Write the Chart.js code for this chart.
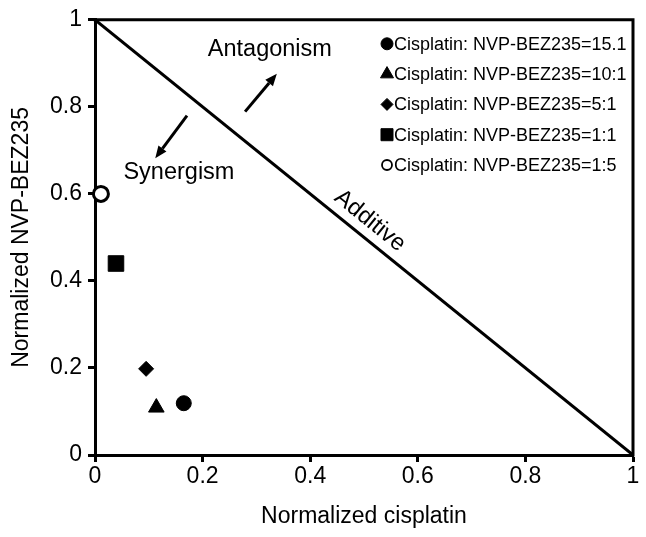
<!DOCTYPE html>
<html>
<head>
<meta charset="utf-8">
<script src="https://cdn.jsdelivr.net/npm/chart.js@4.4.1/dist/chart.umd.min.js"></script>
<style>
  html, body { margin: 0; padding: 0; background: #fff; }
  #wrap { width: 646px; height: 537px; }
</style>
</head>
<body>
<div id="wrap"><canvas id="c" width="646" height="537"></canvas></div>
<script>
// ---- data ----
const seriesLabels = [
  'Cisplatin: NVP-BEZ235=15.1',
  'Cisplatin: NVP-BEZ235=10:1',
  'Cisplatin: NVP-BEZ235=5:1',
  'Cisplatin: NVP-BEZ235=1:1',
  'Cisplatin: NVP-BEZ235=1:5'
];
const normCisplatin = [0.165, 0.114, 0.095, 0.039, 0.011];
const normBEZ235   = [0.119, 0.109, 0.198, 0.440, 0.600];
const markerStyles = ['circle', 'triangle', 'rectRot', 'rect', 'circle'];
const markerFilled = [true, true, true, true, false];
const additiveX = [0, 1];
const additiveY = [1, 0];
const tickValues = [0, 0.2, 0.4, 0.6, 0.8, 1];
const annotationTexts = ['Antagonism', 'Synergism', 'Additive'];

const FONT = '"Liberation Sans", Arial, Helvetica, sans-serif';
const markerRadius = { circle: 7.5, triangle: 9, rectRot: 7.5, rect: 11 };

const datasets = [];
datasets.push({
  type: 'line',
  label: 'Additive',
  data: additiveX.map((x, i) => ({ x: x, y: additiveY[i] })),
  borderColor: '#000',
  borderWidth: 3,
  pointRadius: 0,
  fill: false,
  order: 10
});
seriesLabels.forEach((lab, i) => {
  const r = markerFilled[i] ? markerRadius[markerStyles[i]] : 7.5;
  datasets.push({
    type: 'scatter',
    label: lab,
    data: [{ x: normCisplatin[i], y: normBEZ235[i] }],
    pointStyle: markerStyles[i],
    pointRadius: r,
    pointHoverRadius: r,
    backgroundColor: markerFilled[i] ? '#000' : '#fff',
    borderColor: '#000',
    borderWidth: markerFilled[i] ? 1 : 3,
    clip: false,
    order: 1
  });
});

const boxPlugin = {
  id: 'boxAndNotes',
  afterDatasetsDraw(chart) {
    const ctx = chart.ctx;
    const a = chart.chartArea;
    const xs = chart.scales.x, ys = chart.scales.y;
    ctx.save();
    // top & right frame
    ctx.strokeStyle = '#000';
    ctx.lineWidth = 3;
    ctx.lineCap = 'square';
    ctx.beginPath();
    ctx.moveTo(a.left, a.top);
    ctx.lineTo(a.right, a.top);
    ctx.lineTo(a.right, a.bottom);
    ctx.stroke();

    // annotation texts
    ctx.fillStyle = '#000';
    ctx.font = '23.5px ' + FONT;
    ctx.textAlign = 'center';
    ctx.textBaseline = 'middle';
    ctx.fillText(annotationTexts[0], xs.getPixelForValue(0.325), ys.getPixelForValue(0.932));
    ctx.fillText(annotationTexts[1], xs.getPixelForValue(0.156), ys.getPixelForValue(0.650));
    // Additive rotated along diagonal
    const x0 = xs.getPixelForValue(0), y0 = ys.getPixelForValue(1);
    const x1 = xs.getPixelForValue(1), y1 = ys.getPixelForValue(0);
    const ang = Math.atan2(y1 - y0, x1 - x0);
    ctx.save();
    ctx.translate(xs.getPixelForValue(0.511), ys.getPixelForValue(0.538));
    ctx.rotate(ang);
    ctx.fillText(annotationTexts[2], 0, 0);
    ctx.restore();

    // arrows
    function arrow(xa, ya, xb, yb) {
      const px0 = xs.getPixelForValue(xa), py0 = ys.getPixelForValue(ya);
      const px1 = xs.getPixelForValue(xb), py1 = ys.getPixelForValue(yb);
      const t = Math.atan2(py1 - py0, px1 - px0);
      const hl = 12, hw = 5;
      const bx = px1 - hl * Math.cos(t), by = py1 - hl * Math.sin(t);
      ctx.lineWidth = 3;
      ctx.lineCap = 'butt';
      ctx.beginPath();
      ctx.moveTo(px0, py0);
      ctx.lineTo(bx, by);
      ctx.stroke();
      ctx.beginPath();
      ctx.moveTo(px1, py1);
      ctx.lineTo(bx - hw * Math.sin(t), by + hw * Math.cos(t));
      ctx.lineTo(bx + hw * Math.sin(t), by - hw * Math.cos(t));
      ctx.closePath();
      ctx.fill();
    }
    arrow(0.279, 0.789, 0.338, 0.876);
    arrow(0.171, 0.780, 0.112, 0.682);

    // legend
    ctx.font = '18px ' + FONT;
    ctx.textAlign = 'left';
    const legendSizes = { circle: 6, triangle: 7.5, rectRot: 6, rect: 8.5 };
    seriesLabels.forEach((lab, i) => {
      const cy = a.top + 24 + i * 30.3;
      const cx = a.right - 246;
      const st = markerStyles[i];
      ctx.fillStyle = markerFilled[i] ? '#000' : '#fff';
      ctx.strokeStyle = '#000';
      ctx.lineWidth = markerFilled[i] ? 1 : 1.8;
      Chart.helpers.drawPoint(ctx, { pointStyle: st, radius: markerFilled[i] ? legendSizes[st] : 5, borderWidth: ctx.lineWidth }, cx, cy);
      ctx.fillStyle = '#000';
      ctx.fillText(lab, cx + 7, cy + 1);
    });
    ctx.restore();
  }
};

new Chart(document.getElementById('c'), {
  data: { datasets: datasets },
  options: {
    responsive: false,
    animation: false,
    events: [],
    layout: { padding: { top: 18, right: 13, left: 0, bottom: 0 } },
    plugins: {
      legend: { display: false },
      tooltip: { enabled: false }
    },
    scales: {
      x: {
        type: 'linear',
        min: 0, max: 1,
        afterBuildTicks(s) { s.ticks = tickValues.map(v => ({ value: v })); },
        afterFit(s) { s.height = 82; },
        ticks: {
          color: '#000',
          font: { family: FONT, size: 23 },
          padding: 1,
          maxRotation: 0,
          callback: v => (v === 0 ? '0' : v === 1 ? '1' : v.toFixed(1))
        },
        grid: { drawOnChartArea: false, drawTicks: true, tickLength: 7, tickWidth: 3, tickColor: '#000' },
        border: { display: true, color: '#000', width: 3 },
        title: {
          display: true,
          text: 'Normalized cisplatin',
          color: '#000',
          font: { family: FONT, size: 23 },
          padding: { top: 0, bottom: 7 }
        }
      },
      y: {
        type: 'linear',
        min: 0, max: 1,
        afterBuildTicks(s) { s.ticks = tickValues.map(v => ({ value: v })); },
        afterFit(s) { s.width = 95; },
        ticks: {
          color: '#000',
          font: { family: FONT, size: 23 },
          padding: 6,
          callback: v => (v === 0 ? '0' : v === 1 ? '1' : v.toFixed(1))
        },
        grid: { drawOnChartArea: false, drawTicks: true, tickLength: 7, tickWidth: 3, tickColor: '#000' },
        border: { display: true, color: '#000', width: 3 },
        title: {
          display: true,
          text: 'Normalized NVP-BEZ235',
          color: '#000',
          font: { family: FONT, size: 23 },
          padding: { top: 8, bottom: 8 }
        }
      }
    }
  },
  plugins: [boxPlugin]
});
</script>
</body>
</html>
